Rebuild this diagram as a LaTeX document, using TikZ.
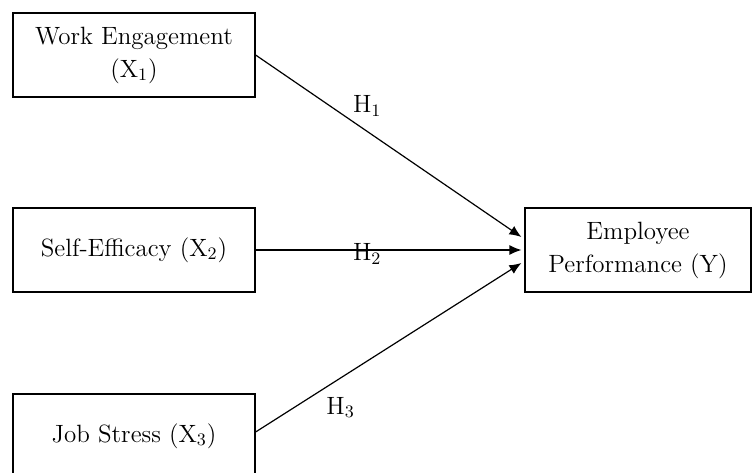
\documentclass[tikz,border=0pt]{standalone}
\usepackage{amsmath,amssymb}
\usepackage{tikz}
\usepackage{xcolor}
\usetikzlibrary{arrows.meta}

\begin{document}
\begin{tikzpicture}[x=0.5pt, y=-0.5pt, line width=0.6pt, >={Latex[length=6pt,width=5pt]},
  every node/.style={font=\fontsize{12.5}{16.5}\selectfont},
  var/.style={draw, align=center, minimum width=121pt, minimum height=42pt}]
\clip (0,0) rectangle (754,472);
\node[var] (n1) at (134,55) {Work Engagement\\(X\textsubscript{1})};
\node[var] (n2) at (134,250) {Self-Efficacy (X\textsubscript{2})};
\node[var] (n3) at (134,436) {Job Stress (X\textsubscript{3})};
\node[var, minimum width=113pt] (n4) at (638,250) {Employee\\Performance (Y)};
\draw[->]  (n1.east) -- node[pos=.42, above=4pt]{H\textsubscript{1}} ([xshift=-1.5pt, yshift=6.5pt]n4.west);
\draw[->]  (n2.east) -- node[pos=.42, yshift=-2pt]{H\textsubscript{2}} ([xshift=-1.5pt]n4.west);
\draw[->]  ([yshift=2pt]n3.east) -- node[pos=.32, below=6pt]{H\textsubscript{3}} ([xshift=-1.5pt, yshift=-6.5pt]n4.west);
\end{tikzpicture}
\end{document}
